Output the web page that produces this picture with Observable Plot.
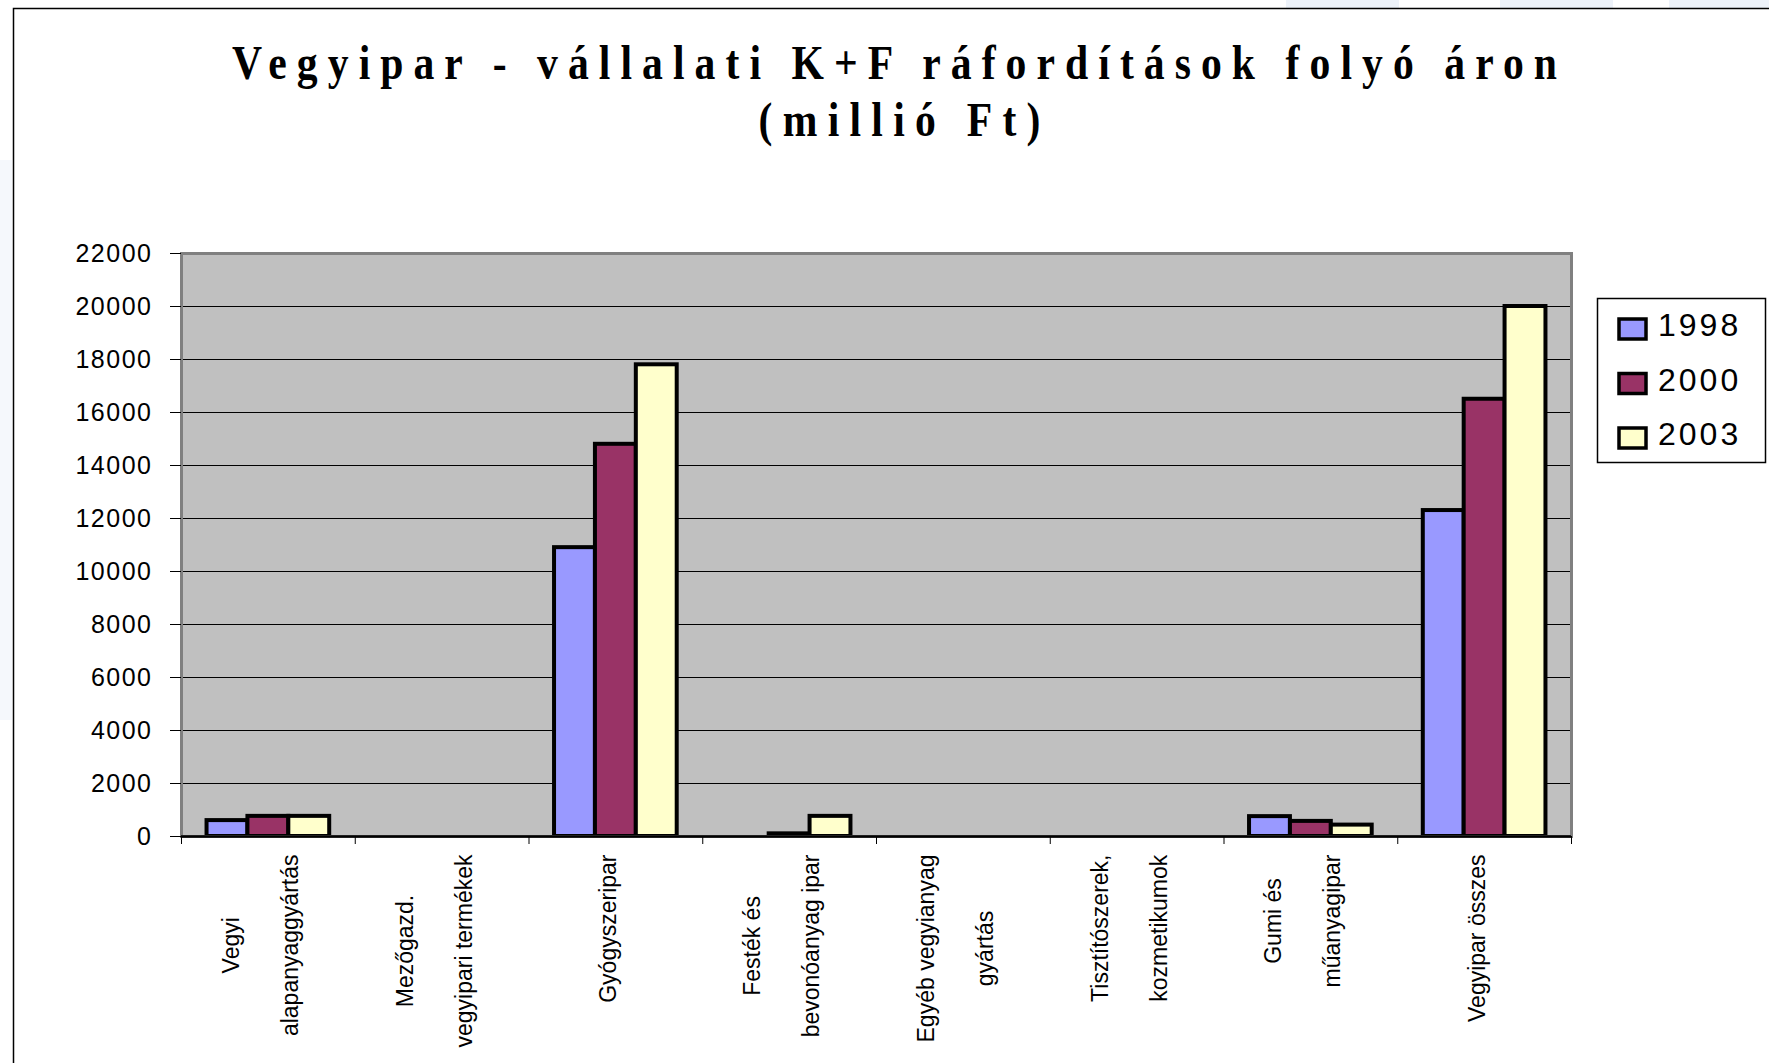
<!DOCTYPE html>
<html>
<head>
<meta charset="utf-8">
<script src="https://cdn.jsdelivr.net/npm/d3@7"></script>
<script src="https://cdn.jsdelivr.net/npm/@observablehq/plot@0.6"></script>
<style>
  html, body { margin: 0; padding: 0; background: #fff; }
  #wrap { position: relative; width: 1769px; height: 1063px; overflow: hidden; background: #fff; }
  #wrap > svg { position: absolute; left: 0; top: 0; }
</style>
</head>
<body>
<div id="wrap"></div>
<script>
// ---- data ----
const categories = [
  "Vegyi alapanyaggyártás",
  "Mezőgazd. vegyipari termékek",
  "Gyógyszeripar",
  "Festék és bevonóanyag ipar",
  "Egyéb vegyianyag gyártás",
  "Tisztítószerek, kozmetikumok",
  "Gumi és műanyagipar",
  "Vegyipar összes"
];
const categoryLabels = [
  "Vegyi\nalapanyaggyártás",
  "Mezőgazd.\nvegyipari termékek",
  "Gyógyszeripar",
  "Festék és\nbevonóanyag ipar",
  "Egyéb vegyianyag\ngyártás",
  "Tisztítószerek,\nkozmetikumok",
  "Gumi és\nműanyagipar",
  "Vegyipar összes"
];
const years = ["1998", "2000", "2003"];
const colors = ["#9999FF", "#993366", "#FFFFCC"];
const v1998 = [600, null, 10900, null, null, null, 750, 12300];
const v2000 = [760, null, 14800, 100, null, null, 570, 16500];
const v2003 = [760, null, 17800, 760, null, null, 430, 20000];
const yTicks = [0, 2000, 4000, 6000, 8000, 10000, 12000, 14000, 16000, 18000, 20000, 22000];
const titleLine1 = "Vegyipar - vállalati K+F ráfordítások folyó áron";
const titleLine2 = "(millió Ft)";

// ---- build table ----
const series = [v1998, v2000, v2003];
const rows = [];
categories.forEach((c, i) => series.forEach((s, j) => {
  if (s[i] != null && s[i] > 0) rows.push({category: c, i, year: years[j], j, value: s[i]});
}));

const W = 1769, H = 1063;
const groupFrac = 0.706;            // share of a category occupied by its bar group
const bw = groupFrac / years.length;
const nY = years.length;

// measure label lines to center each wrapped label block like the original
const LFS = 23;
const ctx = document.createElement("canvas").getContext("2d");
ctx.font = `${LFS}px 'Liberation Sans', Arial, sans-serif`;
const labelMarks = categoryLabels.map((lab, i) => {
  const L = Math.max(...lab.split("\n").map(t => ctx.measureText(t).width));
  return Plot.text([{i, lab}], {
    x: d => d.i + 0.5,
    text: "lab",
    frameAnchor: "bottom",
    rotate: -90,
    textAnchor: "middle",
    lineAnchor: "middle",
    lineHeight: 59 / LFS,
    fontSize: LFS,
    fill: "#000",
    dx: -19,
    dy: 18 + L / 2
  });
});

const plot = Plot.plot({
  width: W,
  height: H,
  marginLeft: 181,
  marginRight: 198,
  marginTop: 253,
  marginBottom: 227,
  style: {background: "transparent", fontFamily: "'Liberation Sans', Arial, sans-serif", color: "#000", overflow: "visible"},
  x: {domain: [0, categories.length], label: null},
  y: {domain: [0, 22000], label: null},
  color: {domain: years, range: colors},
  marks: [
    Plot.frame({fill: "#C0C0C0"}),
    Plot.gridY(yTicks, {stroke: "#000", strokeOpacity: 1, strokeWidth: 1}),
    Plot.rectY(rows, {
      x1: d => d.i + 0.5 + (d.j - nY / 2) * bw,
      x2: d => d.i + 0.5 + (d.j + 1 - nY / 2) * bw,
      y1: 0,
      y2: "value",
      fill: "year",
      stroke: "#000",
      strokeWidth: 4
    }),
    Plot.frame({stroke: "#808080", strokeWidth: 3}),
    Plot.ruleY([0], {stroke: "#000", strokeWidth: 2.5}),
    Plot.axisY({ticks: yTicks, tickSize: 11, tickPadding: 18, fontSize: 25, label: null, tickFormat: d => String(d)}),
    Plot.axisX({ticks: d3.range(categories.length + 1), tickSize: 8, tickFormat: () => "", label: null}),
    ...labelMarks
  ]
});

const wrap = document.getElementById("wrap");

// background decoration (behind)
const bg = d3.create("svg").attr("width", W).attr("height", H);
bg.append("rect").attr("x", 1286).attr("y", 0).attr("width", 113).attr("height", 8).attr("fill", "#edf2f9");
bg.append("rect").attr("x", 1500).attr("y", 0).attr("width", 113).attr("height", 8).attr("fill", "#edf2f9");
bg.append("rect").attr("x", 1669).attr("y", 0).attr("width", 100).attr("height", 8).attr("fill", "#edf2f9");
bg.append("rect").attr("x", 0).attr("y", 160).attr("width", 12).attr("height", 560).attr("fill", "#f5f8fc");
wrap.appendChild(bg.node());

wrap.appendChild(plot);

// letter spacing for y tick labels
d3.select(plot).selectAll("[aria-label='y-axis tick label'] text").attr("letter-spacing", "1.5");

// overlay: chart border, title, legend
const ov = d3.create("svg").attr("width", W).attr("height", H);
ov.append("path").attr("d", `M13.5,${H} V8.5 H${W}`).attr("fill", "none").attr("stroke", "#000").attr("stroke-width", 1.5);

const tScale = 0.85;
const t1 = ov.append("g").attr("transform", `translate(894.5,79) scale(${tScale},1)`);
t1.append("text").text(titleLine1)
  .attr("text-anchor", "middle")
  .attr("font-family", "'Liberation Serif', 'Times New Roman', serif")
  .attr("font-weight", "bold").attr("font-size", 49)
  .attr("textLength", 1325 / tScale).attr("lengthAdjust", "spacing");
const t2 = ov.append("g").attr("transform", `translate(899.5,136) scale(${tScale},1)`);
t2.append("text").text(titleLine2)
  .attr("text-anchor", "middle")
  .attr("font-family", "'Liberation Serif', 'Times New Roman', serif")
  .attr("font-weight", "bold").attr("font-size", 49)
  .attr("textLength", 282 / tScale).attr("lengthAdjust", "spacing");

const lg = ov.append("g");
lg.append("rect").attr("x", 1597.5).attr("y", 298.5).attr("width", 168).attr("height", 164)
  .attr("fill", "#fff").attr("stroke", "#000").attr("stroke-width", 1.5);
years.forEach((yr, k) => {
  const y0 = 319 + k * 54.5;
  lg.append("rect").attr("x", 1619).attr("y", y0).attr("width", 27).attr("height", 20)
    .attr("fill", colors[k]).attr("stroke", "#000").attr("stroke-width", 3.5);
  lg.append("text").text(yr).attr("x", 1658).attr("y", y0 + 17)
    .attr("font-family", "'Liberation Sans', Arial, sans-serif").attr("font-size", 32)
    .attr("letter-spacing", 3).attr("fill", "#000");
});
wrap.appendChild(ov.node());
</script>
</body>
</html>
